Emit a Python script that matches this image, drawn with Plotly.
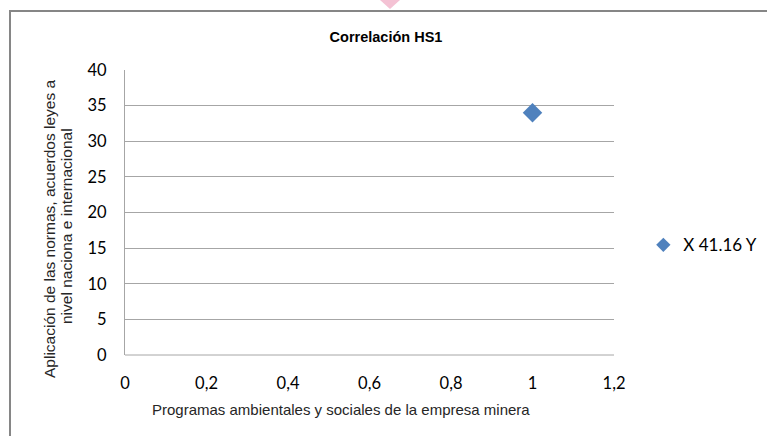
import plotly.graph_objects as go

# Datos
x_vals = [1]
y_vals = [34]
serie_nombre = "X 41.16 Y"
x_ticks = [0, 0.2, 0.4, 0.6, 0.8, 1, 1.2]
x_tick_labels = ["0", "0,2", "0,4", "0,6", "0,8", "1", "1,2"]
y_ticks = [0, 5, 10, 15, 20, 25, 30, 35, 40]
titulo_x = "Programas ambientales y sociales de la empresa minera"
titulo_y = ["Aplicación de las normas, acuerdos leyes a",
            "nivel naciona e internacional"]

W, H = 767, 436
L, R, T, B = 125, 153, 70, 81
pw, ph = W - L - R, H - T - B


def px_x(p):
    return (p - L) / pw


def px_y(p):
    return (H - B - p) / ph


fig = go.Figure()

# punto de la serie (sin leyenda, la leyenda usa un marcador más pequeño)
fig.add_trace(go.Scatter(
    x=x_vals,
    y=y_vals,
    mode='markers',
    name=serie_nombre,
    showlegend=False,
    marker=dict(symbol='diamond', size=15, color='#4F81BD',
                line=dict(width=0))
))

# entrada de leyenda
fig.add_trace(go.Scatter(
    x=[None],
    y=[None],
    mode='markers',
    name=serie_nombre,
    marker=dict(symbol='diamond', size=11, color='#4F81BD',
                line=dict(width=0))
))

# título del eje Y en dos líneas (anotaciones giradas)
for texto, xp, yp in zip(titulo_y, [49, 67], [229, 226]):
    fig.add_annotation(
        text=texto, textangle=-90, showarrow=False,
        xref='paper', yref='paper', x=px_x(xp), y=px_y(yp),
        xanchor='center', yanchor='middle',
        font=dict(family="Liberation Sans", size=15.5, color='#262626'),
    )

# título del eje X
fig.add_annotation(
    text=titulo_x, showarrow=False,
    xref='paper', yref='paper', x=px_x(341), y=px_y(409),
    xanchor='center', yanchor='middle',
    font=dict(family="Liberation Sans", size=15, color='#262626'),
)

fig.update_layout(
    width=W, height=H,
    margin=dict(l=L, r=R, t=T, b=B, autoexpand=False),
    paper_bgcolor='white',
    plot_bgcolor='white',
    showlegend=True,
    title=dict(text="<b>Correlación HS1</b>", x=386 / W, xanchor='center',
               y=1 - 37 / H, yanchor='middle',
               font=dict(family="Liberation Sans", size=14.5, color='black')),
    legend=dict(x=1.06, y=0.385, xanchor='left', yanchor='middle',
                font=dict(family="Lato", size=17, color='black'),
                bgcolor='rgba(0,0,0,0)', itemwidth=30, borderwidth=0),
    shapes=[
        # borde exterior del gráfico
        dict(type='rect', xref='paper', yref='paper',
             x0=px_x(10), x1=px_x(780), y0=px_y(450), y1=px_y(11),
             line=dict(color='#868686', width=2), layer='below'),
        # triángulo rosado de la parte superior
        dict(type='path', xref='paper', yref='paper',
             path=f"M {px_x(380)} {px_y(0)} L {px_x(400)} {px_y(0)} L {px_x(390)} {px_y(9)} Z",
             fillcolor='#F4C2D4', line=dict(width=0)),
        # línea inferior del área de trazado
        dict(type='line', xref='paper', yref='paper', x0=0, x1=1, y0=0, y1=0,
             line=dict(color='#A6A6A6', width=1)),
    ],
)

fig.update_xaxes(
    range=[0, 1.2],
    tickvals=x_ticks,
    ticktext=x_tick_labels,
    showgrid=False,
    zeroline=False,
    showline=False,
    ticks='',
    ticklabelstandoff=16,
    tickfont=dict(family="Lato", size=16.5, color='black'),
)

fig.update_yaxes(
    range=[0, 40],
    tickvals=y_ticks,
    showgrid=True,
    gridcolor='#A6A6A6',
    gridwidth=1,
    zeroline=False,
    showline=True,
    linecolor='#A6A6A6',
    linewidth=1,
    ticks='',
    ticklabelstandoff=14,
    tickfont=dict(family="Lato", size=16.5, color='black'),
)

fig.write_html("out.html", config={'displayModeBar': False},
               post_script="document.body.style.margin='0';")
